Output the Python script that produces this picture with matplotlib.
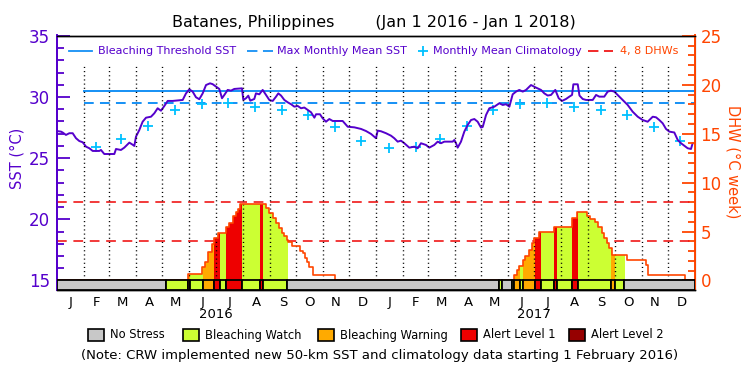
import numpy as np
import matplotlib.pyplot as plt
from matplotlib.patches import Rectangle
from matplotlib.lines import Line2D

plt.rcParams['lines.scale_dashes'] = False

# days counted from 1 Jan 2016
sst_day = [0, 4.9, 6.8, 10.6, 14.5, 18.3, 22.1, 25.9, 29.8, 33.6, 37.4, 41.2, 48.8, 50.7,
           54.5, 66, 67.9, 73.6, 77.4, 83.2, 87, 88.9, 90.8, 94.6, 98.4, 102.3, 108, 111.8,
           115.6, 119.4, 123.3, 127.1, 132.8, 144.3, 148.1, 151.9, 155.7, 159.5, 163.3, 167.2,
           171, 175.6, 178.6, 182.4, 186.2, 189.3, 192, 195.8, 199.6, 203.4, 212.2, 213.7,
           216.8, 219.4, 221.7, 226.3, 228.2, 232, 235.9, 239.7, 243.5, 247.4, 251.2, 253.8,
           256.9, 260.7, 264.5, 268.4, 272.2, 276, 279.8, 283.6, 287.5, 291.3, 295.1, 297,
           301.5, 304.6, 308.4, 312.2, 316.1, 327.5, 333.3, 340.9, 348.5, 354.2, 360, 365.7,
           367.6, 371.4, 377.1, 382.8, 386.6, 390.5, 394.3, 398.1, 403.8, 409.5, 413.4, 417.2,
           422.9, 426.7, 432.4, 436.3, 440.1, 443.9, 453.5, 455.4, 457.3, 459.2, 463, 466.8,
           470.6, 474.5, 478.3, 482.1, 485.9, 487.9, 491.7, 495.5, 501.2, 506.9, 510.8, 514.6,
           518.4, 522.2, 526, 529.8, 533.7, 537.5, 543.2, 548.9, 554.6, 558.4, 562.3, 566.1,
           571, 574.9, 578.7, 583.3, 587.1, 590.2, 591.7, 596.7, 598.7, 602.4, 606.2, 613.9,
           617.7, 621.4, 627.1, 631, 634.8, 638.6, 642.4, 648.2, 653.9, 659.6, 665.4, 671.1,
           676.8, 682.6, 686.4, 690.1, 694, 697.8, 701.6, 707.3, 711.2, 715, 718.8, 722.6,
           726.4, 728.3]
sst_val = [27.22, 27.17, 27.1, 26.9, 27.04, 27.04, 26.63, 26.4, 26.3, 25.94, 25.81, 25.59, 25.59, 25.67,
           25.34, 25.34, 25.75, 25.67, 25.86, 26.27, 26.1, 26.0, 26.76, 27.3, 27.98, 28.31, 28.39, 28.67,
           29.08, 28.88, 29.27, 29.68, 29.68, 29.76, 30.3, 30.63, 30.44, 29.98, 29.82, 30.3,
           30.98, 31.12, 31.05, 30.85, 30.66, 29.9, 30.17, 30.58, 30.52, 30.66, 30.71, 29.76,
           29.9, 30.11, 29.7, 29.84, 30.3, 30.22, 30.58, 30.17, 29.76, 29.68, 30.03, 30.3,
           30.12, 29.76, 29.57, 29.41, 29.21, 29.27, 29.08, 29.14, 28.94, 28.75, 28.31, 28.59,
           28.59, 28.26, 27.98, 28.2, 28.04, 28.04, 27.57, 27.52, 27.39, 27.22, 26.98, 26.63,
           27.25, 27.2, 27.04, 26.84, 26.63, 26.35, 26.43, 26.22, 25.86, 25.94, 25.81, 26.22,
           26.08, 25.86, 26.08, 26.35, 26.22, 26.35, 26.35, 26.49, 26.22, 25.86, 26.35, 27.17,
           27.71, 28.12, 28.2, 27.98, 27.5, 27.55, 28.53, 29.08, 29.21, 29.49, 29.35, 29.41,
           29.21, 30.22, 30.44, 30.58, 30.44, 30.58, 30.98, 30.77, 30.58, 30.3, 30.12, 30.17,
           30.58, 29.9, 29.68, 29.84, 30.03, 30.17, 31.04, 31.04, 30.12, 29.84, 29.76, 29.76,
           30.17, 30.03, 30.03, 30.44, 30.52, 30.44, 30.17, 29.76, 29.35, 28.8, 28.39, 28.12,
           27.98, 28.39, 28.34, 28.12, 27.85, 27.39, 27.17, 27.1, 26.49, 26.22, 26.02, 25.81,
           25.75, 26.22]

# monthly mean climatology (Jan..Dec)
clim_month = [25.8, 25.9, 26.55, 27.6, 28.92, 29.41, 29.49, 29.16, 28.94, 28.53, 27.58, 26.4]
mmm = 29.49
threshold = 30.49

# degree heating weeks, step values starting at each day
dhw_day = [0, 150, 166.8, 169.8, 173.6, 177.5, 180.1, 185.1, 193.9, 197.7, 201.6, 205.3, 208,
           209.9, 239.7, 243.5, 247.4, 251.1, 254.9, 257.7, 260.3, 263.4, 265.2, 269.1, 278.6,
           281.7, 284.4, 287, 289.3, 293.2, 318.7,
           524.1, 526.8, 529.8, 533.7, 536.3, 541.3, 544, 547, 552.3, 569.5, 590.5, 595.5,
           607.7, 610.7, 616.5, 620.3, 624.1, 626.8, 629.9, 632.8, 635.6, 652.8, 674.5, 677.5,
           719.5, 731]
dhw_val = [0, 0.62, 1.4, 1.92, 2.89, 3.71, 4.33, 4.85, 5.46, 5.88, 6.56, 7.0, 7.35,
           7.84, 7.42, 6.9, 6.38, 5.88, 5.36, 4.85, 4.57, 4.15, 3.97, 3.54, 3.02,
           2.78, 2.33, 1.92, 1.4, 0.55, 0,
           0.55, 1.06, 1.5, 2.09, 2.54, 3.12, 3.81, 4.33, 4.95, 5.46, 6.39, 7.0,
           6.56, 6.32, 5.98, 5.46, 4.85, 4.33, 3.81, 3.3, 2.61, 2.09, 1.58, 0.55,
           0, 0]

# bleaching alert status (0 no stress .. 4 alert level 2)
status_start = [0, 125, 150, 153, 167, 180.5, 187, 194, 212.5, 233, 236.5, 264,
                506.5, 509.5, 521, 524, 531, 534.5, 548, 555, 570, 572.5, 590.5, 597.5, 635, 639.5, 650]
status_end = status_start[1:] + [731]
status_level = [0, 1, 2, 1, 2, 3, 1, 3, 1, 3, 1, 0,
                1, 0, 1, 2, 1, 2, 3, 1, 3, 1, 3, 1, 2, 1, 0]
status_names = ['No Stress', 'Bleaching Watch', 'Bleaching Warning', 'Alert Level 1', 'Alert Level 2']
status_colors = ['#c8c8c8', '#ccff33', '#ffaa00', '#ee0000', '#960000']

month_letters = list('JFMAMJJASOND') * 2
years = ['2016', '2017']

purple = '#5500cc'
blue = '#1590f5'
cyan = '#00c0ff'
orange = '#ff4500'
dash_red = '#f01818'

t0 = np.datetime64('2016-01-01')
month_start = (np.arange('2016-01', '2018-02', dtype='datetime64[M]').astype('datetime64[D]') - t0).astype(int)
month_mid = (month_start[:-1] + month_start[1:]) / 2
clim_day = month_start[1:24] + 14
clim_val = [clim_month[m % 12] for m in range(1, 24)]

sst_lim = (14.22, 35.03)
dhw_lim = ((sst_lim[0] - 15) * 1.25, (sst_lim[1] - 15) * 1.25)


def px(x):
    return x / 750


def py(y):
    return 1 - y / 375


fig = plt.figure(figsize=(7.5, 3.75), dpi=100)
ax = fig.add_axes([px(56.7), py(290), px(695) - px(56.7), py(35.5) - py(290)])
ax2 = ax.twinx()

# SST side
ax.plot([31, 731], [threshold, threshold], color=blue, lw=1.4, zorder=3)
ax.plot([31, 731], [mmm, mmm], color=blue, lw=1.4, ls=(0, (7, 4.5)), zorder=3)
ax.plot(clim_day, clim_val, ls='none', marker='+', ms=7.5, mew=1.3, color=cyan, zorder=4)
ax.plot(sst_day, sst_val, color=purple, lw=1.4, zorder=5)
ax.set_xlim(0, 731)
ax.set_ylim(*sst_lim)
ax.set_yticks([15, 20, 25, 30, 35])
ax.set_yticks(range(15, 36), minor=True)
ax.set_xticks(month_mid, month_letters)
ax.tick_params(axis='y', which='major', direction='in', length=9.5, width=1.3, colors=purple,
               labelsize=12, pad=5)
ax.tick_params(axis='y', which='minor', direction='in', length=4.8, width=1.3, colors=purple)
ax.tick_params(axis='x', length=0, labelsize=9.5, pad=4)
ax.spines['left'].set_color(purple)
ax.spines['left'].set_linewidth(1.4)

# DHW side
for lvl in [4, 8]:
    ax2.plot([0, 731], [lvl, lvl], color=dash_red, lw=1.2, ls=(0, (7, 4.8)), zorder=2)
for s, e, lev in zip(status_start, status_end, status_level):
    if lev == 0:
        continue
    poly = ax2.fill_between(dhw_day, dhw_val, 0, step='post', color=status_colors[lev], lw=0, zorder=2)
    poly.set_clip_path(Rectangle((s, -5), e - s, 40, transform=ax2.transData))
ax2.vlines(month_start[1:24], 0, 22, colors='black', lw=1.0, linestyles=(0, (0.8, 2.2)), zorder=3)
ax2.step(dhw_day, dhw_val, where='post', color=orange, lw=1.2, zorder=4)
ax2.broken_barh([(s, e - s) for s, e in zip(status_start, status_end)],
                (dhw_lim[0], -dhw_lim[0]),
                facecolors=[status_colors[l] for l in status_level],
                edgecolor='black', lw=1.3, zorder=5)
ax2.set_ylim(*dhw_lim)
ax2.set_yticks([0, 5, 10, 15, 20, 25])
ax2.set_yticks(range(0, 26), minor=True)
ax2.tick_params(axis='y', which='major', direction='in', length=9.5, width=1.3, colors=orange,
                labelsize=12, pad=4)
ax2.tick_params(axis='y', which='minor', direction='in', length=4.8, width=1.3, colors=orange)
ax2.spines['right'].set_color(orange)
ax2.spines['right'].set_linewidth(1.4)
ax2.spines['left'].set_color(purple)
ax2.spines['left'].set_linewidth(1.4)
for a in (ax, ax2):
    a.spines['top'].set_linewidth(1.0)
    a.spines['bottom'].set_linewidth(1.0)

for yr, d in zip(years, [month_start[6], month_start[18]]):
    ax.text(d, -0.098, yr, transform=ax.get_xaxis_transform(), ha='center', va='center', fontsize=9.5)

fig.text(px(374), py(22), 'Batanes, Philippines        (Jan 1 2016 - Jan 1 2018)',
         ha='center', va='center', fontsize=11.5)
fig.text(px(17), py(158), 'SST (°C)', rotation=90, ha='center', va='center', color=purple, fontsize=10.5)
fig.text(px(733), py(162), 'DHW (°C week)', rotation=270, ha='center', va='center', color=orange,
         fontsize=10.5)

# top legend
ly = py(51)
fig.add_artist(Line2D([px(69), px(92)], [ly, ly], color=blue, lw=1.3))
fig.text(px(98), ly, 'Bleaching Threshold SST', color=purple, fontsize=8, va='center')
fig.add_artist(Line2D([px(247), px(273)], [ly, ly], color=blue, lw=1.3, ls=(0, (7.5, 4))))
fig.text(px(277), ly, 'Max Monthly Mean SST', color=purple, fontsize=8, va='center')
fig.add_artist(Line2D([px(423)], [ly], color=cyan, marker='+', ms=7.5, mew=1.3, ls='none'))
fig.text(px(433), ly, 'Monthly Mean Climatology', color=purple, fontsize=8, va='center')
fig.add_artist(Line2D([px(588), px(613)], [ly, ly], color=dash_red, lw=1.3, ls=(0, (7.5, 4))))
fig.text(px(620), ly, '4, 8 DHWs', color=orange, fontsize=8, va='center')

# status legend
for bx, name, col in zip([88, 183, 318, 461, 569], status_names, status_colors):
    fig.add_artist(Rectangle((px(bx), py(341)), px(16), py(329) - py(341), facecolor=col,
                             edgecolor='black', lw=1.2, transform=fig.transFigure))
    fig.text(px(bx + 22), py(335), name, fontsize=8.3, va='center')

fig.text(px(380), py(355), '(Note: CRW implemented new 50-km SST and climatology data starting 1 February 2016)',
         ha='center', va='center', fontsize=9.5)

fig.savefig('out.png', dpi=100)
